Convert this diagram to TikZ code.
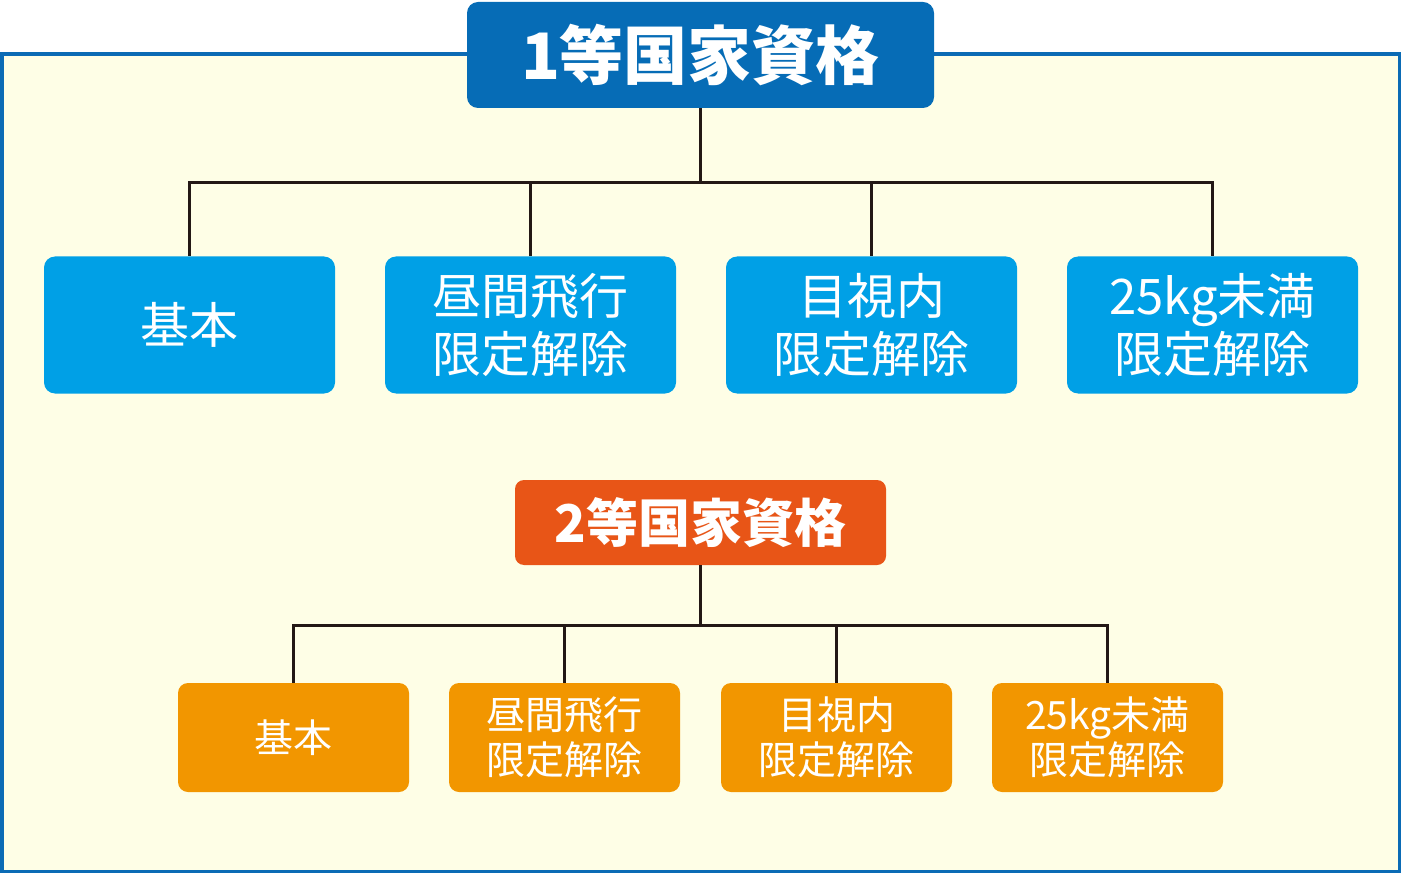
\documentclass[tikz,border=0pt]{standalone}
\usepackage{fontspec}
\newfontfamily\jp{Noto Sans CJK JP}
\usetikzlibrary{positioning}
\definecolor{frameblue}{HTML}{0B6BB5}
\definecolor{paper}{HTML}{FEFEE6}
\definecolor{darkblue}{HTML}{066CB6}
\definecolor{skyblue}{HTML}{00A0E6}
\definecolor{redorange}{HTML}{E85517}
\definecolor{amber}{HTML}{F29600}
\definecolor{wire}{HTML}{231815}
\tikzset{
	box/.style = {align=center, inner sep=0pt, text=white, rounded corners=11pt},
	top_one/.style = {box, fill=darkblue, minimum width=467pt, minimum height=106pt,
		font=\jp\bfseries\fontsize{64}{72}\selectfont},
	lv_one/.style = {box, fill=skyblue, minimum width=291pt, minimum height=137pt,
		font=\jp\fontsize{49}{58}\selectfont},
	top_two/.style = {box, fill=redorange, minimum width=371pt, minimum height=85pt,
		rounded corners=9pt, font=\jp\bfseries\fontsize{52}{58}\selectfont},
	lv_two/.style = {box, fill=amber, minimum width=231pt, minimum height=109pt,
		rounded corners=10pt, font=\jp\fontsize{39}{45}\selectfont},
	wire/.style = {draw=wire, line width=3pt}
}
\begin{document}
\begin{tikzpicture}[x=1pt,y=-1pt]
\useasboundingbox (0,0) rectangle (1402,874);
\draw[fill=paper, draw=frameblue, line width=3.5pt] (2,54) rectangle (1399.5,871.5);
% 1st class
\node [top_one] (c1) at (700.5,55) {1等国家資格};
\node [lv_one] (a1) at (189.5,325) {基本};
\node [lv_one] (a2) at (530.5,325) {昼間飛行\\限定解除};
\node [lv_one] (a3) at (871.5,325) {目視内\\限定解除};
\node [lv_one] (a4) at (1212.5,325) {25kg未満\\限定解除};
\coordinate (j1) at (700.5,183);
\draw [wire] (c1.south) -- (j1);
\foreach \i in {1,...,4}
	\draw [wire] (j1) -| (a\i.north);
% 2nd class
\node [top_two] (c2) at (700.5,522.5) {2等国家資格};
\node [lv_two] (b1) at (293.5,737.5) {基本};
\node [lv_two] (b2) at (564.5,737.5) {昼間飛行\\限定解除};
\node [lv_two] (b3) at (836.5,737.5) {目視内\\限定解除};
\node [lv_two] (b4) at (1107.5,737.5) {25kg未満\\限定解除};
\coordinate (j2) at (700.5,625);
\draw [wire] (c2.south) -- (j2);
\foreach \i in {1,...,4}
	\draw [wire] (j2) -| (b\i.north);
\end{tikzpicture}
\end{document}
